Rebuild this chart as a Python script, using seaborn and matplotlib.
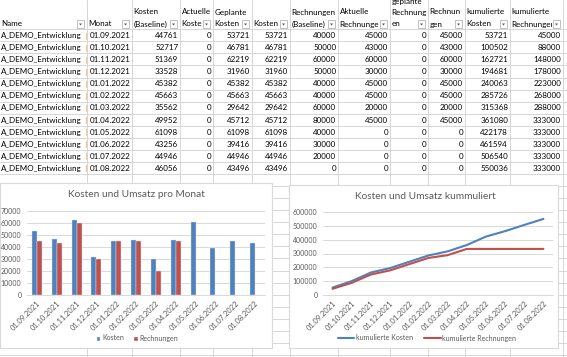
import numpy as np
import pandas as pd
import matplotlib
matplotlib.use("Agg")
import matplotlib.pyplot as plt
import seaborn as sns
from matplotlib.patches import Rectangle, Polygon
from matplotlib.lines import Line2D

# ---------------- data ----------------
namen = ["A_DEMO_Entwicklung"] * 12
monate = ["01.09.2021", "01.10.2021", "01.11.2021", "01.12.2021", "01.01.2022", "01.02.2022",
          "01.03.2022", "01.04.2022", "01.05.2022", "01.06.2022", "01.07.2022", "01.08.2022"]
kosten_baseline = [44761, 52717, 51369, 33528, 45382, 45663, 35562, 49952, 61098, 43256, 44946, 46056]
aktuelle_kosten = [0, 0, 0, 0, 0, 0, 0, 0, 0, 0, 0, 0]
geplante_kosten = [53721, 46781, 62219, 31960, 45382, 45663, 29642, 45712, 61098, 39416, 44946, 43496]
kosten = [53721, 46781, 62219, 31960, 45382, 45663, 29642, 45712, 61098, 39416, 44946, 43496]
rechnungen_baseline = [40000, 50000, 60000, 50000, 40000, 40000, 60000, 80000, 40000, 30000, 20000, 0]
aktuelle_rechnungen = [45000, 43000, 60000, 30000, 45000, 45000, 20000, 45000, 0, 0, 0, 0]
geplante_rechnungen = [0, 0, 0, 0, 0, 0, 0, 0, 0, 0, 0, 0]
rechnungen = [45000, 43000, 60000, 30000, 45000, 45000, 20000, 45000, 0, 0, 0, 0]
kum_kosten = [53721, 100502, 162721, 194681, 240063, 285726, 315368, 361080, 422178, 461594, 506540, 550036]
kum_rechnungen = [45000, 88000, 148000, 178000, 223000, 268000, 288000, 333000, 333000, 333000, 333000, 333000]

header_lines = [
    ["Name"], ["Monat"], ["Kosten", "(Baseline)"], ["Actuelle", "Kosten"], ["Geplante", "Kosten"],
    ["Kosten"], ["Rechnungen", "(Baseline)"], ["Aktuelle", "Rechnungen"], ["geplante", "Rechnung", "en"],
    ["Rechnun", "gen"], ["kumulierte", "Kosten"], ["kumulierte", "Rechnungen"],
]
bar_series = ["Kosten", "Rechnungen"]
line_series = ["kumulierte Kosten", "kumulierte Rechnungen"]
title_left = "Kosten und Umsatz pro Monat"
title_right = "Kosten und Umsatz kummuliert"
yticks_left = [0, 10000, 20000, 30000, 40000, 50000, 60000, 70000]
yticks_right = [0, 100000, 200000, 300000, 400000, 500000, 600000]

# ---------------- setup ----------------
sns.set_theme(style="white")
plt.rcParams['font.family'] = ['Lato', 'DejaVu Sans']

W, H = 567, 357
fig = plt.figure(figsize=(W / 100, H / 100), dpi=100)
fig.patch.set_facecolor("white")


def fx(x):
    return x / W


def fy(y):
    return 1 - y / H


GRID = "#d6d6d6"
TXT = "#595959"
BLUE = "#4F81BD"
RED = "#C0504D"

col_left = [0, 87, 132, 180, 213, 252, 290, 338, 390, 428, 465, 510]
col_right = [87, 132, 180, 213, 252, 290, 338, 390, 428, 465, 510, 563]
header_bottom = 29.3
row_h = 12.06

# sheet gridlines
for x in col_right:
    fig.add_artist(Line2D([fx(x), fx(x)], [0, 1], transform=fig.transFigure,
                          color=GRID, lw=0.7, zorder=-3))
y = header_bottom
while y < H:
    fig.add_artist(Line2D([0, 1], [fy(y), fy(y)], transform=fig.transFigure,
                          color=GRID, lw=0.7, zorder=-3))
    y += row_h

# header
TFS = 5.8
line_y = [24.0, 12.0, 1.5]
for c, lines in enumerate(header_lines):
    L, R = col_left[c], col_right[c]
    for k, txt in enumerate(reversed(lines)):
        yy = line_y[k]
        t = fig.text(fx(L + 1.5), fy(yy), txt, fontsize=TFS, ha="left", va="center",
                     color="black", zorder=2)
        right_clip = R - 11 if k == 0 else R - 0.5
        clip = Rectangle((fx(L), fy(header_bottom)), fx(right_clip) - fx(L), 1 - fy(header_bottom),
                         transform=fig.transFigure)
        t.set_clip_path(clip)
    # filter button
    bx, by = R - 10, 20.5
    fig.add_artist(Rectangle((fx(bx), fy(by + 7)), 7 / W, 7 / H, transform=fig.transFigure,
                             facecolor="white", edgecolor="#a6a6a6", lw=0.5, zorder=3))
    fig.add_artist(Polygon([[fx(bx + 2), fy(by + 3)], [fx(bx + 5), fy(by + 3)], [fx(bx + 3.5), fy(by + 5)]],
                           closed=True, transform=fig.transFigure, facecolor="#555555",
                           edgecolor="none", zorder=4))

# data rows
numeric_cols = [kosten_baseline, aktuelle_kosten, geplante_kosten, kosten, rechnungen_baseline,
                aktuelle_rechnungen, geplante_rechnungen, rechnungen, kum_kosten, kum_rechnungen]
for i in range(len(monate)):
    yc = header_bottom + row_h * i + row_h / 2 + 0.3
    t = fig.text(fx(1), fy(yc), namen[i], fontsize=TFS, ha="left", va="center", color="black", zorder=2)
    t.set_clip_path(Rectangle((0, 0), fx(84.5), 1, transform=fig.transFigure))
    fig.add_artist(Line2D([fx(85.5), fx(85.5)], [fy(yc - 3), fy(yc + 3)], transform=fig.transFigure,
                          color="#f2c79a", lw=0.9, zorder=2))
    fig.text(fx(col_right[1] - 1.8), fy(yc), monate[i], fontsize=TFS, ha="right", va="center",
             color="black", zorder=2)
    for c, arr in enumerate(numeric_cols):
        fig.text(fx(col_right[c + 2] - 1.8), fy(yc), str(arr[i]), fontsize=TFS, ha="right",
                 va="center", color="black", zorder=2)

# chart backgrounds
fig.add_artist(Rectangle((fx(0), fy(348)), 272 / W, (348 - 183) / H, transform=fig.transFigure,
                         facecolor="white", edgecolor="#d9d9d9", lw=0.8, zorder=5))
fig.add_artist(Rectangle((fx(289), fy(348)), (558 - 289) / W, (348 - 185) / H, transform=fig.transFigure,
                         facecolor="white", edgecolor="#d9d9d9", lw=0.8, zorder=5))

TICKFS = 5.4
YTICKFS = 5.0


def style_axes(ax, yticks):
    ax.set_facecolor("none")
    for s in ["left", "right", "top"]:
        ax.spines[s].set_visible(False)
    ax.spines["bottom"].set_color("#d9d9d9")
    ax.spines["bottom"].set_linewidth(0.7)
    ax.set_yticks(yticks)
    ax.set_yticklabels([str(v) for v in yticks])
    ax.set_ylim(yticks[0], yticks[-1])
    ax.yaxis.grid(True, color="#d9d9d9", lw=0.7)
    ax.set_axisbelow(True)
    ax.tick_params(axis="y", length=0, pad=4.0, labelsize=YTICKFS, labelcolor=TXT)
    ax.tick_params(axis="x", which="major", length=0, pad=3, labelsize=TICKFS, labelcolor=TXT)
    ax.set_xticks(np.arange(len(monate) + 1) - 0.5, minor=True)
    ax.tick_params(axis="x", which="minor", length=2.5, width=0.6, color="#d9d9d9")
    for lab in ax.get_xticklabels():
        lab.set_rotation(45)
        lab.set_ha("right")
        lab.set_va("top")
        lab.set_rotation_mode("anchor")
    ax.set_xlim(-0.5, len(monate) - 0.5)
    ax.set_xlabel("")
    ax.set_ylabel("")


# ---------------- left chart ----------------
ax1 = fig.add_axes([fx(27), fy(295), (265 - 27) / W, (295 - 211) / H], zorder=6)
df_bar = pd.DataFrame({
    "Monat": monate * 2,
    "Wert": kosten + rechnungen,
    "Serie": [bar_series[0]] * 12 + [bar_series[1]] * 12,
})
sns.barplot(data=df_bar, x="Monat", y="Wert", hue="Serie", palette=[BLUE, RED], width=0.5,
            saturation=1, edgecolor="#dbe5f1", linewidth=0.3, legend=False, ax=ax1)
style_axes(ax1, yticks_left)
fig.text(fx(136), fy(194.5), title_left, fontsize=7.3, color=TXT, ha="center", va="center", zorder=7)
h1 = [Rectangle((0, 0), 1, 1, facecolor=BLUE), Rectangle((0, 0), 1, 1, facecolor=RED)]
ax1.legend(h1, bar_series, loc="center", bbox_to_anchor=(fx(137), fy(338)), bbox_transform=fig.transFigure,
           ncol=2, frameon=False, fontsize=YTICKFS, handlelength=0.7, handleheight=0.7,
           handletextpad=0.3, columnspacing=1.2, labelcolor=TXT)

# ---------------- right chart ----------------
ax2 = fig.add_axes([fx(323), fy(295), (553 - 323) / W, (295 - 212) / H], zorder=6)
df_line = pd.DataFrame({
    "Monat": monate * 2,
    "Wert": kum_kosten + kum_rechnungen,
    "Serie": [line_series[0]] * 12 + [line_series[1]] * 12,
})
sns.lineplot(data=df_line, x="Monat", y="Wert", hue="Serie", palette=[BLUE, RED], linewidth=1.5,
             sort=False, legend=False, ax=ax2)
style_axes(ax2, yticks_right)
fig.text(fx(425.5), fy(196.5), title_right, fontsize=7.3, color=TXT, ha="center", va="center", zorder=7)
h2 = [Line2D([0], [0], color=BLUE, lw=1.5), Line2D([0], [0], color=RED, lw=1.5)]
ax2.legend(h2, line_series, loc="center", bbox_to_anchor=(fx(427), fy(338)), bbox_transform=fig.transFigure,
           ncol=2, frameon=False, fontsize=YTICKFS, handlelength=2.4, handletextpad=0.2,
           columnspacing=1.6, labelcolor=TXT)

fig.savefig("out.png", dpi=100, facecolor="white")
